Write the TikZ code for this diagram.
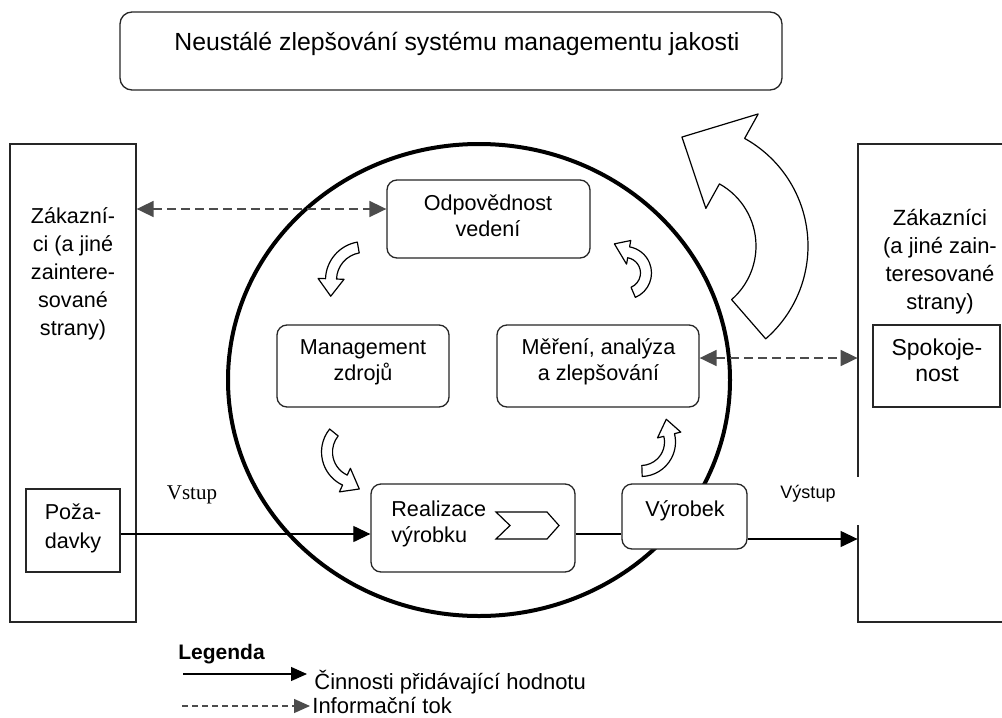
\documentclass[tikz,border=0pt]{standalone}
\usepackage{fontspec}
\setmainfont{Liberation Sans}
\newfontfamily\vstupfont{Liberation Serif}
\usetikzlibrary{arrows.meta,calc}

\tikzset{
  txt/.style={font=\fontsize{10.8}{13}\selectfont, align=center, inner sep=0pt},
  sidetxt/.style={font=\fontsize{10.8}{14}\selectfont, align=center, inner sep=0pt},
  frame/.style={draw=black!85, line width=0.65pt},
  sbox/.style={frame, fill=white},
  rbox/.style={frame, fill=white, rounded corners=5pt},
  flow/.style={line width=0.6pt, -{Triangle[length=8.5pt,width=8pt]}},
  legflow/.style={line width=0.6pt, -{Triangle[length=8pt,width=7pt]}},
  info/.style={draw=black!70, line width=0.9pt, dash pattern=on 4.5pt off 2.5pt,
    {Triangle[length=8.5pt,width=8pt]}-{Triangle[length=8.5pt,width=8pt]}},
  leginfo/.style={draw=black!70, line width=0.7pt, dash pattern=on 3pt off 2pt,
    -{Triangle[length=8pt,width=7pt]}},
  bendbody/.style={draw=black, line width=0.6pt, fill=white, line join=round},
}

% curved block arrow: centre, radius, half band, start angle, end angle,
% half head width, tip angle, tip radius
\newcommand{\bendarrow}[8]{%
  \begin{scope}[shift={#1}, yscale=-1]
    \draw[bendbody] ({#4}:{#2+#3}) arc[start angle={#4}, end angle={#5}, radius={#2+#3}]
      -- ({#5}:{#2+#6}) -- ({#7}:{#8}) -- ({#5}:{#2-#6}) -- ({#5}:{#2-#3})
      arc[start angle={#5}, end angle={#4}, radius={#2-#3}] -- cycle;
  \end{scope}}

\begin{document}
\begin{tikzpicture}[x=0.5pt,y=-0.5pt]
\useasboundingbox (0,0) rectangle (1002,718);
\clip (0,0) rectangle (1002,718);
\fill[white] (0,0) rectangle (1002,718);

% title
\node[rbox, rounded corners=6pt, minimum width=331pt, minimum height=39pt] (title) at (451,51) {};
\node[txt, font=\fontsize{12.4}{15}\selectfont] (titletext) at (457,44)
  {Neustálé zlepšování systému managementu jakosti};

% the process circle
\draw[line width=2pt] (479,380) ellipse [x radius=251, y radius=236];

% customers on the left
\node[sbox, minimum width=63pt, minimum height=239pt] (lbox) at (73,383) {};
\node[sidetxt] (ltext) at (73,274)
  {Zákazní-\\ci (a jiné\\zaintere-\\sované\\strany)};
\node[sbox, minimum width=47pt, minimum height=41.5pt] (poz) at (73,530.5) {};
\node[sidetxt, font=\fontsize{10.8}{14.5}\selectfont] (poztext) at (73,528) {Poža-\\davky};

% customers on the right (open towards the edge, gap beside the output)
\node[minimum width=86pt, minimum height=239pt, inner sep=0pt] (rbox) at (944,383) {};
\draw[frame] (1040,144) -- (858,144) -- (858,477);
\draw[frame] (858,525) -- (858,622) -- (1040,622);
\node[sidetxt, font=\fontsize{11}{14}\selectfont] (rtext) at (940,262)
  {Zákazníci\\(a jiné zain-\\teresované\\strany)};
\node[sbox, minimum width=63.5pt, minimum height=41pt] (spok) at (936.5,366) {};
\node[sidetxt, font=\fontsize{11.5}{13}\selectfont] (spoktext) at (937,360) {Spokoje-\\nost};

% processes
\node[rbox, minimum width=101.5pt, minimum height=39pt] (odp) at (488.5,219) {};
\node[txt] (odptext) at (488,215.5) {Odpovědnost\\vedení};
\node[rbox, minimum width=86pt, minimum height=41pt] (mgmt) at (363,366) {};
\node[txt] (mgmttext) at (363,362) {Management\\zdrojů};
\node[rbox, minimum width=101pt, minimum height=41pt] (mer) at (598,366) {};
\node[txt] (mertext) at (598.5,362) {Měření, analýza\\a zlepšování};
\node[rbox, minimum width=102pt, minimum height=44pt] (real) at (473,528) {};
\node[txt, align=left, anchor=west] (realtext) at (391,524) {Realizace\\výrobku};
\node[rbox, minimum width=62.5pt, minimum height=32.5pt] (vyr) at (684.5,516.5) {};
\node[txt] (vyrtext) at (685,511) {Výrobek};
\draw[line width=0.6pt, line join=miter] (496,512) -- (547,512) -- (559,525.5) -- (547,539)
  -- (496,539) -- (510,525.5) -- cycle;

% flows
\coordinate (yInfoTop) at (0,209);
\coordinate (yInfoBot) at (0,358);
\coordinate (yIn) at (0,534);
\coordinate (yOut) at (0,539);
\draw[info] (lbox.east |- yInfoTop) -- (odp.west |- yInfoTop);
\draw[info] (mer.east |- yInfoBot) -- (rbox.west |- yInfoBot);
\draw[flow] (poz.east |- yIn) -- (real.west |- yIn);
\draw[line width=0.6pt] (real.east |- yIn) -- (vyr.west |- yIn);
\draw[flow] (vyr.east |- yOut) -- (rbox.west |- yOut);
\node[font=\vstupfont\fontsize{10.5}{12}\selectfont, inner sep=0pt, anchor=base] (vstup) at (192,499) {Vstup};
\node[font=\fontsize{9}{11}\selectfont, inner sep=0pt] (vystup) at (808,494) {Výstup};

% cycle arrows
\bendarrow{(364,280)}{33}{5.5}{100}{178}{13}{206}{37}
\bendarrow{(358,452)}{31}{5.5}{141}{245}{13}{272}{37}
\bendarrow{(641,442)}{29}{5.5}{-88}{14}{12}{42}{34}
\bendarrow{(625,273)}{21}{5.5}{-67}{80}{12}{110}{31}
% continual improvement arrow
\bendarrow{(685,246)}{97}{26}{-49}{61}{54}{91.6}{109}

% legend
\node[font=\bfseries\fontsize{10.5}{12}\selectfont, anchor=base west, inner sep=0pt] (leg) at (178,659) {Legenda};
\coordinate (l1a) at (183,674);
\coordinate (l1b) at (307,674);
\coordinate (l2a) at (182,706);
\coordinate (l2b) at (310,706);
\draw[legflow] (l1a) -- (l1b);
\draw[leginfo] (l2a) -- (l2b);
\node[font=\fontsize{11}{13}\selectfont, anchor=base west, inner sep=0pt] (l1t) at (314,689) {Činnosti přidávající hodnotu};
\node[font=\fontsize{11}{13}\selectfont, anchor=base west, inner sep=0pt] (l2t) at (312,713) {Informační tok};
\end{tikzpicture}
\end{document}
